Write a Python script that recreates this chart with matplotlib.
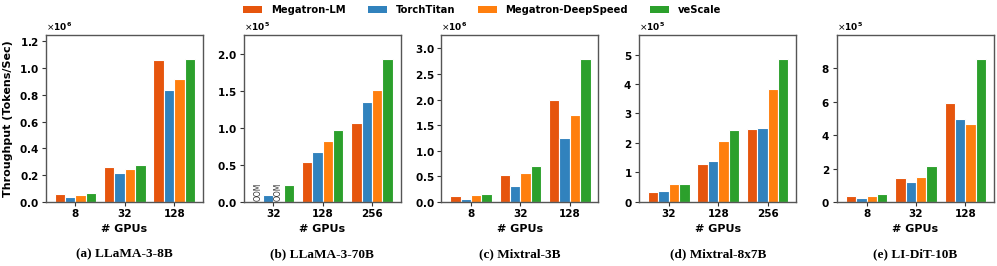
import matplotlib
matplotlib.use("Agg")
import matplotlib.pyplot as plt
import numpy as np
from matplotlib.ticker import ScalarFormatter
from matplotlib.patches import Patch

systems = ["Megatron-LM", "TorchTitan", "Megatron-DeepSpeed", "veScale"]
colors = ["#e6550d", "#3182bd", "#ff7f0e", "#2ca02c"]

titles = ["(a) LLaMA-3-8B", "(b) LLaMA-3-70B", "(c) Mixtral-3B", "(d) Mixtral-8x7B", "(e) LI-DiT-10B"]
gpus = [["8", "32", "128"], ["32", "128", "256"], ["8", "32", "128"], ["32", "128", "256"], ["8", "32", "128"]]

# values per system, per GPU count (None = OOM)
llama8b = {
    "Megatron-LM": [0.062e6, 0.262e6, 1.056e6],
    "TorchTitan": [0.037e6, 0.217e6, 0.832e6],
    "Megatron-DeepSpeed": [0.052e6, 0.242e6, 0.914e6],
    "veScale": [0.065e6, 0.279e6, 1.066e6],
}
llama70b = {
    "Megatron-LM": [None, 0.54e5, 1.072e5],
    "TorchTitan": [0.09e5, 0.674e5, 1.348e5],
    "Megatron-DeepSpeed": [None, 0.824e5, 1.511e5],
    "veScale": [0.235e5, 0.968e5, 1.937e5],
}
mixtral3b = {
    "Megatron-LM": [0.117e6, 0.535e6, 2.0e6],
    "TorchTitan": [0.065e6, 0.319e6, 1.258e6],
    "Megatron-DeepSpeed": [0.143e6, 0.567e6, 1.695e6],
    "veScale": [0.156e6, 0.697e6, 2.79e6],
}
mixtral8x7b = {
    "Megatron-LM": [0.34e5, 1.29e5, 2.47e5],
    "TorchTitan": [0.373e5, 1.40e5, 2.52e5],
    "Megatron-DeepSpeed": [0.60e5, 2.08e5, 3.82e5],
    "veScale": [0.622e5, 2.43e5, 4.84e5],
}
lidit10b = {
    "Megatron-LM": [0.34e5, 1.44e5, 5.92e5],
    "TorchTitan": [0.24e5, 1.20e5, 5.00e5],
    "Megatron-DeepSpeed": [0.34e5, 1.52e5, 4.70e5],
    "veScale": [0.50e5, 2.16e5, 8.58e5],
}
datasets = [llama8b, llama70b, mixtral3b, mixtral8x7b, lidit10b]

yticks = [
    np.arange(0, 1.21e6, 0.2e6),
    np.arange(0, 2.01e5, 0.5e5),
    np.arange(0, 3.01e6, 0.5e6),
    np.arange(0, 5.01e5, 1e5),
    np.arange(0, 8.01e5, 2e5),
]
ylims = [1.245e6, 2.26e5, 3.26e6, 5.66e5, 10.0e5]

fig, axes = plt.subplots(1, 5, figsize=(9.97, 2.66), dpi=100)
fig.subplots_adjust(left=0.046, right=0.997, top=0.868, bottom=0.241, wspace=0.26)

bw = 0.21
for ax, data, labels, title, yt, yl in zip(axes, datasets, gpus, titles, yticks, ylims):
    x = np.arange(len(labels))
    for i, (s, c) in enumerate(zip(systems, colors)):
        vals = data[s]
        xs = x + (i - 1.5) * bw
        h = [0 if v is None else v for v in vals]
        ax.bar(xs, h, width=bw, color=c, edgecolor="white", linewidth=0.8, zorder=2)
        for xi, v in zip(xs, vals):
            if v is None:
                ax.text(xi, yl * 0.005, "OOM", rotation=90, ha="center", va="bottom",
                        fontsize=5.5, color="#333333")
    ax.set_xticks(x)
    ax.set_xticklabels(labels, fontsize=7.5, fontweight="bold")
    ax.set_xlim(-0.6, 2.58)
    ax.set_ylim(0, yl)
    ax.set_yticks(yt)
    fmt = ScalarFormatter(useMathText=True)
    fmt.set_powerlimits((0, 0))
    ax.yaxis.set_major_formatter(fmt)
    ax.yaxis.get_offset_text().set_fontsize(6.5)
    ax.yaxis.get_offset_text().set_fontweight("bold")
    for lab in ax.get_yticklabels():
        lab.set_fontsize(7.5)
        lab.set_fontweight("bold")
    ax.tick_params(axis="both", length=3, width=0.8, colors="#333333", pad=2)
    ax.tick_params(axis="both", labelcolor="black")
    for sp in ax.spines.values():
        sp.set_color("#555555")
        sp.set_linewidth(1.0)
    ax.set_xlabel("# GPUs", fontsize=8, fontweight="bold", labelpad=4)
    ax.text(0.5, -0.28, title, transform=ax.transAxes, ha="center", va="top",
            fontsize=9.5, fontweight="bold", family="Liberation Serif")

axes[0].set_ylabel("Throughput (Tokens/Sec)", fontsize=8, fontweight="bold")

handles = [Patch(facecolor=c, edgecolor="none") for c in colors]
fig.legend(handles, systems, loc="upper center", bbox_to_anchor=(0.484, 1.015), ncol=4,
           frameon=False, prop={"size": 7.2, "weight": "bold"}, handlelength=1.9,
           handleheight=0.7, columnspacing=2.2, handletextpad=0.9)

fig.savefig("out.png", dpi=100)
